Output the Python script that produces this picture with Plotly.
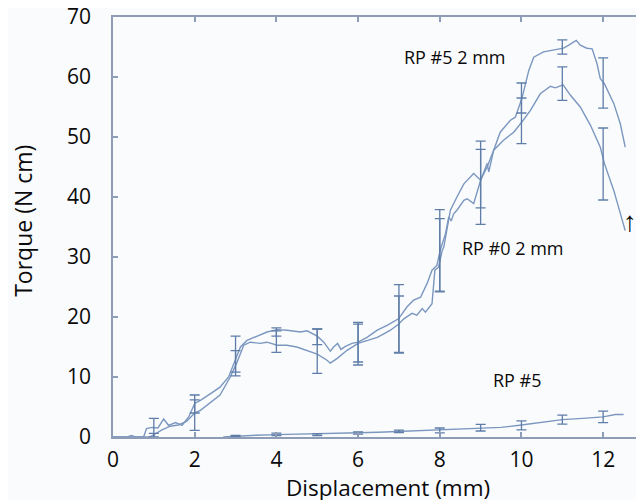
import plotly.graph_objects as go

# ---------------- data ----------------
# RP #5 2 mm (upper curve)
a_x = [0, 0.4, 0.75, 0.82, 0.96, 1.1, 1.24, 1.36, 1.53, 1.69, 1.85, 2.0, 2.14, 2.38, 2.62, 2.83,
       2.95, 3.12, 3.28, 3.53, 3.77, 4.02, 4.26, 4.59, 4.75, 5.0, 5.16, 5.32, 5.4, 5.5, 5.58, 5.69,
       5.85, 6.0, 6.22, 6.47, 6.71, 6.99, 7.2, 7.36, 7.53, 7.69, 7.81, 7.93, 8.01, 8.14, 8.22, 8.28,
       8.34, 8.42, 8.59, 8.67, 8.83, 9.0, 9.16, 9.2, 9.32, 9.48, 9.73, 9.85, 10.01, 10.18, 10.3,
       10.54, 10.79, 11.03, 11.16, 11.28, 11.34, 11.44, 11.6, 11.73, 11.85, 11.93, 12.03, 12.26,
       12.42, 12.54]
a_y = [0, 0, 0, 1.4, 1.6, 1.5, 3.0, 1.95, 2.4, 1.95, 3.3, 5.6, 6.1, 7.2, 8.3, 10.0,
       12.2, 15.0, 16.1, 16.8, 17.5, 17.9, 17.8, 17.5, 17.7, 16.8, 15.8, 14.3, 15.0, 15.6, 14.6, 15.1,
       15.6, 15.8, 16.6, 17.8, 18.6, 19.7, 21.7, 22.8, 23.3, 25.6, 27.8, 28.6, 31.1, 33.9, 36.7, 36.0,
       37.2, 37.8, 39.45, 39.7, 38.9, 42.8, 45.6, 44.2, 47.8, 50.8, 52.8, 53.3, 56.4, 61.1, 63.3,
       64.2, 64.45, 64.8, 65.3, 65.8, 66.1, 65.3, 64.8, 64.7, 62.2, 59.7, 58.9, 55.6,
       52.2, 48.3]

# RP #0 2 mm
b_x = [0, 0.35, 0.45, 0.55, 0.9, 1.0, 1.2, 1.4, 1.6, 1.8, 2.0, 2.14, 2.38, 2.62, 2.87, 3.04,
       3.2, 3.36, 3.6, 3.77, 4.02, 4.26, 4.5, 4.75, 5.0, 5.24, 5.32, 5.49, 5.73, 6.0, 6.22, 6.47,
       6.63, 6.79, 6.99, 7.12, 7.32, 7.44, 7.57, 7.65, 7.81, 7.85, 7.88, 7.97, 8.06, 8.1, 8.26,
       8.42, 8.59, 8.83, 9.0, 9.16, 9.32, 9.56, 9.81, 10.01, 10.22, 10.46, 10.71, 10.83, 11.02,
       11.2, 11.44, 11.69, 11.93, 12.03, 12.26, 12.54]
b_y = [0, 0, 0.25, 0, 0, 0.4, 1.2, 1.8, 2.0, 2.6, 4.0, 4.45, 5.8, 7.0, 10.0, 12.5,
       15.3, 15.8, 15.6, 15.8, 15.3, 15.3, 15.0, 14.45, 13.8, 12.8, 12.3, 13.1, 14.45, 15.6, 16.1, 16.6,
       17.2, 17.8, 18.8, 19.7, 20.6, 20.3, 21.4, 20.8, 22.2, 25.6, 27.8, 28.3, 31.1, 31.7, 37.8,
       40.0, 42.2, 43.9, 42.8, 45.0, 47.8, 49.45, 50.8, 52.5, 54.45, 57.2, 58.45, 58.2, 58.7,
       56.95, 55.0, 51.95, 48.3, 45.6, 41.1, 34.4]

# RP #5 (low curve)
c_x = [2.7, 3.0, 3.5, 4.0, 4.5, 5.0, 5.5, 6.0, 6.5, 7.0, 7.5, 8.0, 8.5, 9.0, 9.5, 10.0, 10.4,
       11.0, 11.5, 12.0, 12.3, 12.5]
c_y = [0, 0.15, 0.3, 0.4, 0.45, 0.5, 0.6, 0.7, 0.8, 0.95, 1.0, 1.15, 1.35, 1.5, 1.6, 2.0, 2.4,
       2.9, 3.1, 3.35, 3.75, 3.75]

# error bars (mean +/- sd at whole millimetres)
ea_x = [1, 2, 3, 4, 5, 6, 7, 8, 9, 10, 11, 12]
ea_y = [1.5, 5.5, 13.8, 17.5, 16.7, 15.8, 19.7, 31.1, 43.75, 56.5, 65.0, 59.0]
ea_e = [1.6, 1.5, 3.0, 0.7, 1.3, 3.3, 5.7, 6.8, 5.55, 2.5, 1.2, 4.2]

eb_x = [1, 2, 3, 4, 5, 6, 7, 8, 9, 10, 11, 12]
eb_y = [0.3, 3.65, 12.3, 15.9, 14.3, 15.4, 18.8, 30.3, 41.7, 52.7, 58.9, 45.5]
eb_e = [0.3, 2.55, 2.1, 1.8, 3.7, 3.4, 4.7, 6.1, 6.25, 3.8, 2.8, 6.0]

ec_x = [3, 4, 5, 6, 7, 8, 9, 10, 11, 12]
ec_y = [0.15, 0.45, 0.4, 0.67, 0.95, 1.1, 1.55, 1.95, 2.9, 3.35]
ec_e = [0.1, 0.2, 0.15, 0.2, 0.2, 0.4, 0.55, 0.75, 0.75, 0.95]

x_ticks = [0, 2, 4, 6, 8, 10, 12]
y_ticks = [0, 10, 20, 30, 40, 50, 60, 70]

# ---------------- styling ----------------
LINE = "#7B97BF"
BAR = "#5E7DA8"
AXIS = "#8E9DB5"
BG = "#FAFBFD"
FONT = "Open Sans"
TXT = "#0a0a0a"

fig = go.Figure()

for xs, ys in [(a_x, a_y), (b_x, b_y), (c_x, c_y)]:
    fig.add_trace(go.Scatter(x=xs, y=ys, mode="lines",
                             line=dict(color=LINE, width=1.4),
                             showlegend=False, hoverinfo="skip"))

for xs, ys, es in [(ea_x, ea_y, ea_e), (eb_x, eb_y, eb_e), (ec_x, ec_y, ec_e)]:
    fig.add_trace(go.Scatter(x=xs, y=ys, mode="markers",
                             marker=dict(size=1, color=BAR),
                             error_y=dict(type="data", array=es, visible=True,
                                          color=BAR, thickness=1.3, width=5),
                             showlegend=False, hoverinfo="skip"))

annots = [
    dict(x=8.38, y=63.3, text="RP #5 2 mm"),
    dict(x=9.79, y=31.5, text="RP #0 2 mm"),
    dict(x=9.91, y=9.45, text="RP #5"),
]
for a in annots:
    fig.add_annotation(x=a["x"], y=a["y"], text=a["text"], showarrow=False,
                       xref="x", yref="y", font=dict(family=FONT, size=18, color=TXT),
                       xanchor="center", yanchor="middle")

fig.add_annotation(x=12.66, y=36.0, text="↑", showarrow=False, xref="x", yref="y",
                   font=dict(family="Liberation Sans", size=28, color=TXT),
                   xanchor="center", yanchor="middle")

# axis titles
fig.add_annotation(x=-0.1685, y=0.5136, xref="paper", yref="paper", text="Torque (N cm)",
                   textangle=-90, showarrow=False, xanchor="center", yanchor="middle",
                   font=dict(family=FONT, size=23, color=TXT))
fig.add_annotation(x=0.518, y=-0.121, xref="paper", yref="paper", text="Displacement (mm)",
                   showarrow=False, xanchor="center", yanchor="middle",
                   font=dict(family=FONT, size=22.5, color=TXT))

axis_common = dict(showgrid=False, zeroline=False, showline=True, linecolor=AXIS, linewidth=1.5,
                   mirror="ticks", ticks="inside", ticklen=5, tickcolor=AXIS, tickwidth=1.5,
                   automargin=False, ticklabeloverflow="allow",
                   tickfont=dict(family=FONT, size=21, color=TXT))

fig.update_xaxes(range=[0, 13], tickvals=x_ticks, ticktext=[str(v) for v in x_ticks],
                 ticklabelstandoff=3, **axis_common)
fig.update_yaxes(range=[0, 70], tickvals=y_ticks, ticktext=[str(v) for v in y_ticks],
                 ticklabelstandoff=16, **axis_common)

# the page adds an 8 px body margin, so the figure is sized to fit the 644x500 window
fig.update_layout(width=636, height=492,
                  margin=dict(l=104.6, r=0, t=9, b=63.3, autoexpand=False),
                  paper_bgcolor=BG, plot_bgcolor=BG, showlegend=False)

fig.write_html("out.html")
